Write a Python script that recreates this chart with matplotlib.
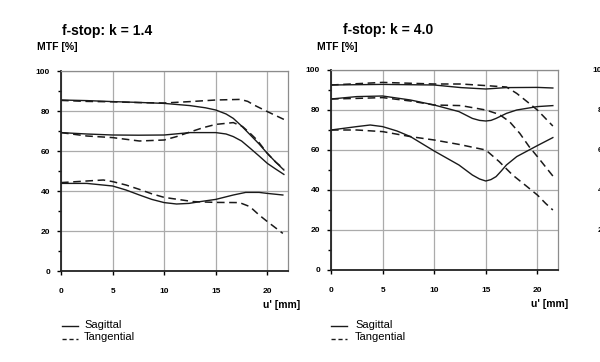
import matplotlib
matplotlib.use("Agg")
import matplotlib.pyplot as plt
from matplotlib.lines import Line2D

plt.rcParams['font.family'] = ['Liberation Sans', 'DejaVu Sans']

# ---------------- data: k = 1.4 ----------------
k14_sag_hi_x = [0, 2.5, 5, 7.5, 10, 12.5, 14, 15, 16, 16.7, 17.5, 18.35, 19.2, 20, 20.8, 21.6]
k14_sag_hi_y = [85.5, 85.2, 84.7, 84.3, 83.8, 82.7, 81.6, 80.5, 78.5, 76.3, 72.5, 68, 63.5, 58.8, 54.5, 50.5]
k14_tan_hi_x = [0, 2.5, 5, 7.5, 10, 12.5, 15, 17.4, 18.1, 18.7, 20, 21.6]
k14_tan_hi_y = [85.3, 84.8, 84.6, 84.2, 84.0, 84.7, 85.5, 85.8, 84.8, 83, 79.7, 75.8]
k14_sag_mid_x = [0, 2.5, 5, 7.5, 10, 12.5, 15, 16, 16.7, 17.5, 18.35, 19.2, 20, 20.8, 21.6]
k14_sag_mid_y = [69.2, 68.5, 68, 67.9, 68, 69.2, 69.2, 68.5, 67.2, 65, 61.3, 57.5, 53.8, 51, 48.3]
k14_tan_mid_x = [0, 2.5, 5, 7.6, 10, 11.2, 12.5, 13.8, 15, 16.7, 17.6, 18.3, 19, 20, 20.8, 21.6]
k14_tan_mid_y = [69.2, 67.5, 66.7, 65, 65.5, 67.2, 69.5, 71.7, 73.3, 74.2, 72.2, 69, 65.5, 58.8, 54.5, 51]
k14_sag_lo_x = [0, 2.5, 5, 6.3, 7.6, 8.8, 10, 11.2, 12.4, 13.5, 15, 16.7, 17.9, 19.2, 20, 21.5]
k14_sag_lo_y = [43.8, 43.8, 42.5, 40.5, 38, 35.8, 34.2, 33.5, 33.8, 34.7, 35.8, 38, 39.3, 39.3, 38.8, 38]
k14_tan_lo_x = [0, 2.5, 4.1, 5, 6.3, 7.6, 8.8, 10, 12.8, 15, 17.3, 18.3, 19.2, 20, 21.5]
k14_tan_lo_y = [44.2, 45, 45.5, 44.7, 43, 40.8, 38.6, 36.8, 34.7, 34.3, 34.2, 32.2, 28, 24.7, 18.8]

# ---------------- data: k = 4.0 ----------------
k40_sag_hi_x = [0, 5, 10, 12.6, 15, 17, 20, 21.5]
k40_sag_hi_y = [92.5, 92.8, 92.5, 91.2, 90.5, 91.2, 91.3, 91.0]
k40_tan_hi_x = [0, 5, 10, 12.6, 15, 17, 18, 19, 20, 21.5]
k40_tan_hi_y = [92.5, 93.8, 93, 93.0, 92.2, 91.5, 88.3, 84.2, 80, 72]
k40_sag_mid_x = [0, 2.5, 5, 7.7, 10, 12.4, 13.7, 14.4, 15, 15.5, 16, 17, 18, 20, 21.5]
k40_sag_mid_y = [85.5, 86.7, 87, 85, 82.5, 79.2, 75.8, 74.8, 74.5, 74.8, 75.8, 78.3, 80, 81.7, 82.2]
k40_tan_mid_x = [0, 2.5, 5, 7.7, 10, 12.6, 15, 16.3, 17.3, 18.3, 19.2, 20, 21.5]
k40_tan_mid_y = [85.5, 85.8, 86.2, 84.5, 82.5, 82.2, 80, 77.8, 74.2, 68.3, 61.7, 56.7, 47]
k40_sag_lo_x = [0, 2.5, 3.8, 5, 6.4, 7.7, 10, 12.4, 13.7, 14.4, 15, 15.5, 16, 16.5, 17, 18, 19.2, 20, 21.5]
k40_sag_lo_y = [70, 71.7, 72.5, 71.7, 69.5, 66.7, 59.5, 52.5, 47.5, 45.5, 44.5, 45.2, 46.7, 49.5, 52.5, 56.7, 60, 62.2, 66.2]
k40_tan_lo_x = [0, 2.5, 5, 7.7, 10, 12.4, 15, 16.3, 17.6, 19, 20, 20.8, 21.5]
k40_tan_lo_y = [70, 70, 69.2, 66.7, 65, 62.8, 60, 54.2, 47.5, 41.7, 37.5, 33.3, 30]

x_ticks = [0, 5, 10, 15, 20]
x_tick_labels = ['0', '5', '10', '15', '20']
y_ticks = [0, 20, 40, 60, 80, 100]
y_tick_labels = ['0', '20', '40', '60', '80', '100']

titles = ['f-stop: k = 1.4', 'f-stop: k = 4.0']
y_label = 'MTF [%]'
x_label = "u' [mm]"
legend_labels = ['Sagittal', 'Tangential']

W, H = 600, 362
fig = plt.figure(figsize=(6.0, 3.62), dpi=100)

def fx(px):
    return px / W

def fy(py):
    return 1 - py / H

def style_axes(ax, xlabels=True):
    ax.set_xlim(0, 22)
    ax.set_ylim(0, 100)
    ax.set_xticks(x_ticks)
    if xlabels:
        ax.set_xticklabels(x_tick_labels, fontsize=6, fontweight='bold')
    else:
        ax.set_xticklabels([])
    ax.set_yticks(y_ticks)
    ax.set_yticklabels(y_tick_labels, fontsize=6, fontweight='bold')
    ax.set_yticks([10, 30, 50, 70, 90], minor=True)
    ax.tick_params(axis='both', which='major', direction='out', length=3,
                   width=1, pad=5)
    ax.tick_params(axis='y', which='minor', direction='out', length=2, width=1)
    ax.tick_params(axis='x', which='major', pad=9)
    ax.grid(True, which='major', color='#ababab', linewidth=0.9)
    ax.set_axisbelow(True)
    for s in ['top', 'right']:
        ax.spines[s].set_color('#8c8c8c')
        ax.spines[s].set_linewidth(0.9)
    for s in ['left', 'bottom']:
        ax.spines[s].set_color('#222222')
        ax.spines[s].set_linewidth(1.3)

panels = [
    dict(pos=(61, 71, 288, 271),
         sag=[(k14_sag_hi_x, k14_sag_hi_y), (k14_sag_mid_x, k14_sag_mid_y), (k14_sag_lo_x, k14_sag_lo_y)],
         tan=[(k14_tan_hi_x, k14_tan_hi_y), (k14_tan_mid_x, k14_tan_mid_y), (k14_tan_lo_x, k14_tan_lo_y)],
         title_xy=(62, 31), ylab_xy=(37, 47), xlab_xy=(300, 305), leg_x=(62, 78, 84)),
    dict(pos=(331, 70, 558, 270),
         sag=[(k40_sag_hi_x, k40_sag_hi_y), (k40_sag_mid_x, k40_sag_mid_y), (k40_sag_lo_x, k40_sag_lo_y)],
         tan=[(k40_tan_hi_x, k40_tan_hi_y), (k40_tan_mid_x, k40_tan_mid_y), (k40_tan_lo_x, k40_tan_lo_y)],
         title_xy=(343, 30), ylab_xy=(317, 47), xlab_xy=(568, 304), leg_x=(331, 347, 355)),
]

for i, p in enumerate(panels):
    l, t, r, b = p['pos']
    ax = fig.add_axes([fx(l), fy(b), fx(r - l), (b - t) / H])
    style_axes(ax)
    for xs, ys in p['sag']:
        ax.plot(xs, ys, color='#1a1a1a', linewidth=1.0, solid_joinstyle='round')
    for xs, ys in p['tan']:
        ax.plot(xs, ys, color='#1a1a1a', linewidth=1.1, linestyle=(0, (5, 3)))
    fig.text(fx(p['title_xy'][0]), fy(p['title_xy'][1]), titles[i],
             fontsize=10, fontweight='bold', ha='left', va='center')
    fig.text(fx(p['ylab_xy'][0]), fy(p['ylab_xy'][1]), y_label,
             fontsize=7.5, fontweight='bold', ha='left', va='center')
    fig.text(fx(p['xlab_xy'][0]), fy(p['xlab_xy'][1]), x_label,
             fontsize=7.5, fontweight='bold', ha='right', va='center')
    x0, x1, xt = p['leg_x']
    fig.add_artist(Line2D([fx(x0), fx(x1)], [fy(326), fy(326)],
                          color='#1a1a1a', linewidth=1.0))
    fig.add_artist(Line2D([fx(x0), fx(x1)], [fy(338.5), fy(338.5)],
                          color='#1a1a1a', linewidth=1.0, linestyle=(0, (3, 2))))
    fig.text(fx(xt), fy(325.5), legend_labels[0], fontsize=8, ha='left', va='center')
    fig.text(fx(xt), fy(337.5), legend_labels[1], fontsize=8, ha='left', va='center')

# third panel, cut off at the right edge of the picture (only its y labels peek in)
ax3 = fig.add_axes([fx(618), fy(270), fx(227), 200 / H])
style_axes(ax3, xlabels=False)

fig.savefig('out.png', dpi=100, facecolor='white')
